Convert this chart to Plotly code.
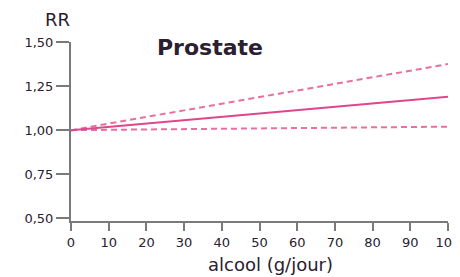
import plotly.graph_objects as go

alcool = [0, 100]
rr_central = [1.00, 1.19]
rr_upper = [1.00, 1.375]
rr_lower = [1.00, 1.02]

y_ticks = [0.50, 0.75, 1.00, 1.25, 1.50]
y_ticklabels = ["0,50", "0,75", "1,00", "1,25", "1,50"]
x_ticks = [0, 10, 20, 30, 40, 50, 60, 70, 80, 90, 100]

pink = "#E0468C"
light_pink = "#E8709F"
axis_gray = "#7A7A7A"
text_color = "#2A2030"

fig = go.Figure()
fig.add_trace(go.Scatter(x=alcool, y=rr_upper, mode="lines",
                         line=dict(color=light_pink, width=2, dash="6px,4px")))
fig.add_trace(go.Scatter(x=alcool, y=rr_lower, mode="lines",
                         line=dict(color=light_pink, width=2, dash="6px,4px")))
fig.add_trace(go.Scatter(x=alcool, y=rr_central, mode="lines",
                         line=dict(color=pink, width=2)))

fig.update_layout(
    width=452, height=269,
    margin=dict(l=63, r=12, t=34, b=56, autoexpand=False),
    paper_bgcolor="white", plot_bgcolor="white",
    showlegend=False,
    font=dict(family="DejaVu Sans", color=text_color),
    xaxis=dict(range=[0, 100], tickvals=x_ticks, showline=True, linecolor=axis_gray,
               linewidth=2, ticks="outside", ticklen=8, tickcolor=axis_gray, tickwidth=2,
               showgrid=False, zeroline=False, tickfont=dict(size=13), automargin=False,
               ticklabeloverflow="allow"),
    yaxis=dict(range=[0.485, 1.5], tickvals=y_ticks, ticktext=y_ticklabels, showline=True,
               linecolor=axis_gray, linewidth=2, ticks="outside", ticklen=13,
               tickcolor=axis_gray, tickwidth=2, showgrid=False, zeroline=False,
               tickfont=dict(size=13), automargin=False),
    annotations=[
        dict(text="<b>Prostate</b>", xref="paper", yref="paper", x=0.369, y=0.972,
             xanchor="center", yanchor="middle", showarrow=False,
             font=dict(size=22, color=text_color)),
        dict(text="RR", xref="paper", yref="paper", x=0.003, y=1.128,
             xanchor="right", yanchor="middle", showarrow=False,
             font=dict(size=18, color=text_color)),
        dict(text="alcool (g/jour)", xref="paper", yref="paper", x=0.528, y=-0.243,
             xanchor="center", yanchor="middle", showarrow=False,
             font=dict(size=18, color=text_color)),
    ],
)

fig.write_html("out.html")
